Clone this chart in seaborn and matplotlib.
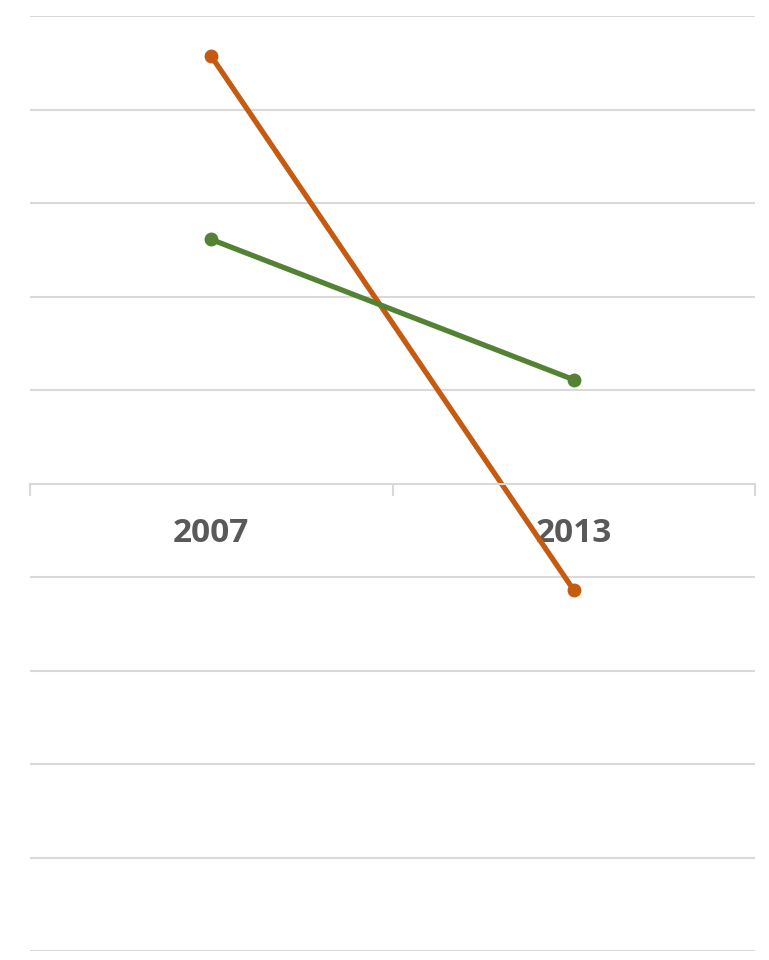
import pandas as pd
import seaborn as sns
import matplotlib.pyplot as plt

years = ["2007", "2013"]
series_a = [4.57, -1.14]   # orange
series_b = [2.61, 1.11]    # green
series_names = ["A", "B"]
colors = {"A": "#C55A11", "B": "#548235"}

df = pd.DataFrame({
    "pos": [0, 1, 0, 1],
    "value": series_a + series_b,
    "series": [series_names[0]] * 2 + [series_names[1]] * 2,
})

sns.set_style("white")
plt.rcParams['font.family'] = ['Open Sans', 'DejaVu Sans']

fig = plt.figure(figsize=(7.69, 9.60), dpi=100)
ax = fig.add_axes([30 / 769, 1 - 951 / 960, (755 - 30) / 769, (951 - 16) / 960])

for y in range(-5, 6):
    if y != 0:
        ax.axhline(y, color="#D9D9D9", lw=1.5, zorder=0)

sns.lineplot(data=df, x="pos", y="value", hue="series", palette=colors,
             marker="o", markersize=10, markeredgewidth=0, linewidth=3.8,
             legend=False, ax=ax)

ax.set_xlim(-0.5, 1.5)
ax.set_ylim(-5, 5)
ax.set_xlabel("")
ax.set_ylabel("")
ax.set_yticks([])

for s in ["top", "right", "left"]:
    ax.spines[s].set_visible(False)
ax.spines["bottom"].set_position(("data", 0))
ax.spines["bottom"].set_color("#D9D9D9")
ax.spines["bottom"].set_linewidth(1.5)

ax.set_xticks([-0.5, 0.5, 1.5])
ax.set_xticklabels([])
ax.tick_params(axis="x", which="major", direction="out", length=8.5,
               width=1.5, color="#D9D9D9", bottom=True)
ax.set_xticks([0, 1], minor=True)
ax.set_xticklabels(years, minor=True)
ax.tick_params(axis="x", which="minor", length=0, pad=24, labelsize=24,
               labelcolor="#595959", bottom=True)
for lbl in ax.get_xticklabels(minor=True):
    lbl.set_fontweight("bold")

fig.savefig("out.png", dpi=100, facecolor="white")
